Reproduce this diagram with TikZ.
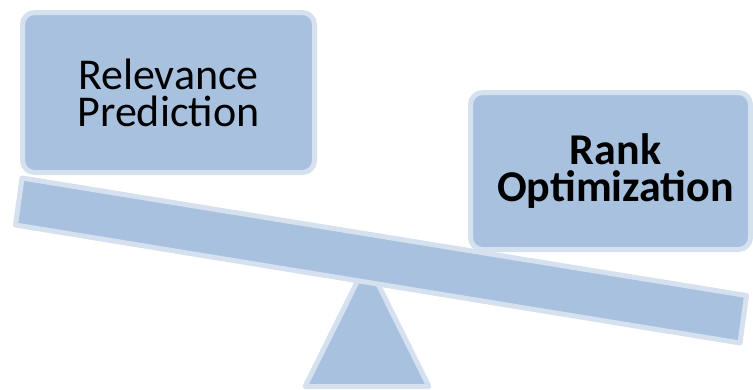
\documentclass[tikz,border=0pt]{standalone}
\usepackage{fontspec}
\setmainfont{Carlito}
\definecolor{plankfill}{RGB}{167,193,223}
\definecolor{plankedge}{RGB}{214,225,239}
\tikzset{
  part/.style={fill=plankfill, draw=plankedge, line width=5pt, line join=round},
  boxnode/.style={part, rounded corners=12pt, align=center, inner sep=0pt,
    font=\fontsize{44}{37}\selectfont, text=black},
}
\begin{document}
\begin{tikzpicture}[x=1pt,y=-1pt]
\useasboundingbox (0,0) rectangle (753,389);
% fulcrum
\draw[part] (305,386.5) coordinate (tl) -- (367,262) coordinate (ta) -- (429,386.5) coordinate (tr) -- cycle;
% boxes
\node[boxnode, minimum width=292pt, minimum height=160pt] (rel) at (168.5,92.5) {Relevance\\Prediction};
\node[boxnode, minimum width=280pt, minimum height=157pt] (rank) at (610.5,171) {\bfseries\hspace*{10pt}Rank\\\bfseries\hspace*{10pt}Optimization};
% plank
\draw[part] (22,178) coordinate (p1) -- (746.5,295.5) coordinate (p2) -- (740,343) coordinate (p3) -- (15.5,225) coordinate (p4) -- cycle;
\end{tikzpicture}
\end{document}
